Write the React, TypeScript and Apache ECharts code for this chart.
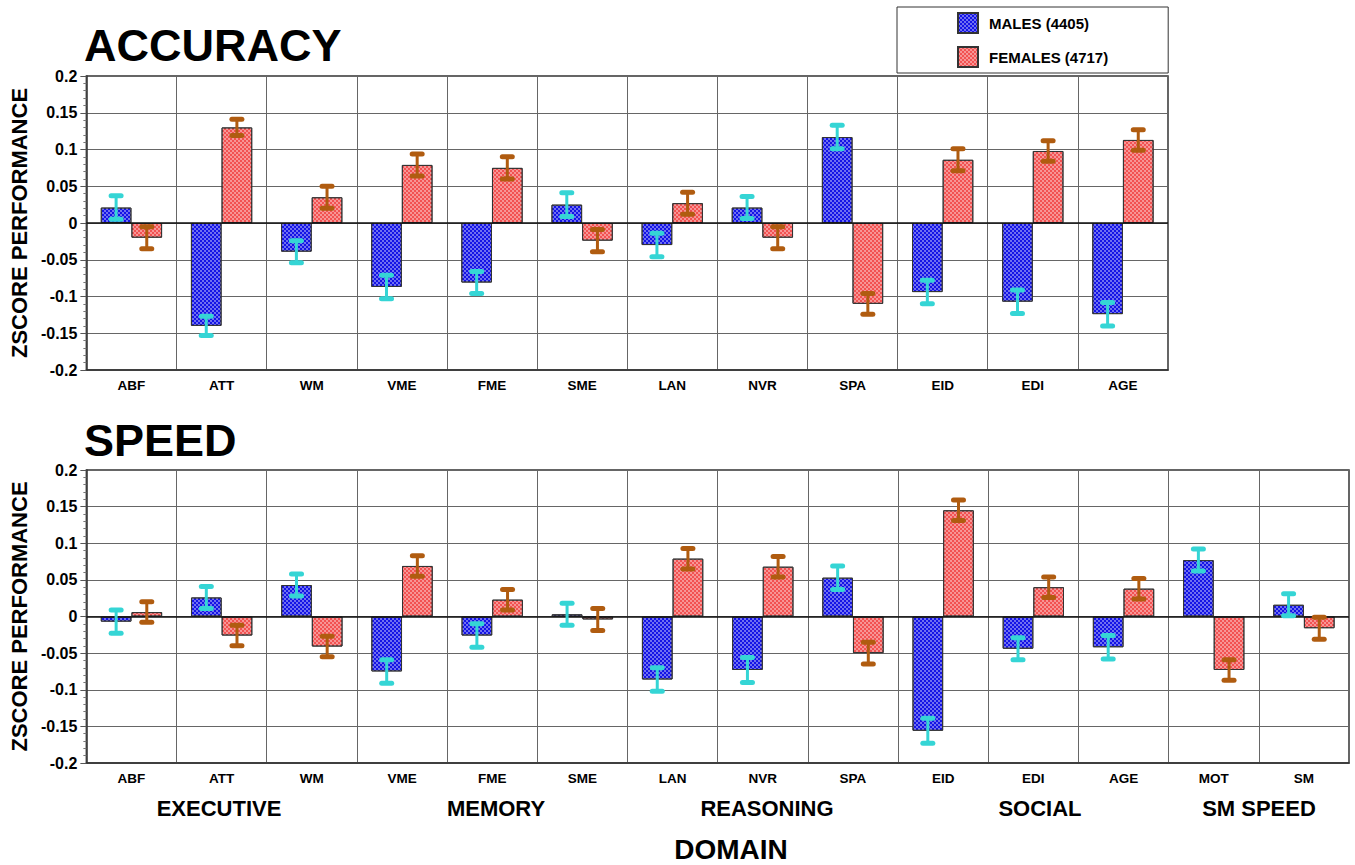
import React, { useEffect, useRef } from "react";
import * as echarts from "echarts";

const accCategories = ["ABF", "ATT", "WM", "VME", "FME", "SME", "LAN", "NVR", "SPA", "EID", "EDI", "AGE"];
const accMales = [0.021, -0.140, -0.039, -0.087, -0.081, 0.025, -0.030, 0.021, 0.117, -0.094, -0.107, -0.124];
const accMalesErr = [0.016, 0.013, 0.015, 0.016, 0.015, 0.016, 0.016, 0.015, 0.016, 0.016, 0.016, 0.016];
const accFemales = [-0.020, 0.130, 0.035, 0.079, 0.075, -0.024, 0.027, -0.020, -0.110, 0.086, 0.098, 0.113];
const accFemalesErr = [0.015, 0.011, 0.015, 0.015, 0.015, 0.015, 0.015, 0.015, 0.014, 0.015, 0.014, 0.014];

const spdCategories = ["ABF", "ATT", "WM", "VME", "FME", "SME", "LAN", "NVR", "SPA", "EID", "EDI", "AGE", "MOT", "SM"];
const spdMales = [-0.007, 0.026, 0.043, -0.075, -0.026, 0.003, -0.086, -0.073, 0.053, -0.156, -0.044, -0.042, 0.077, 0.016];
const spdMalesErr = [0.016, 0.015, 0.015, 0.016, 0.016, 0.015, 0.016, 0.017, 0.016, 0.017, 0.015, 0.016, 0.015, 0.015];
const spdFemales = [0.006, -0.026, -0.041, 0.069, 0.023, -0.004, 0.079, 0.068, -0.050, 0.145, 0.040, 0.038, -0.073, -0.016];
const spdFemalesErr = [0.014, 0.014, 0.014, 0.014, 0.014, 0.015, 0.014, 0.014, 0.015, 0.014, 0.014, 0.014, 0.014, 0.015];

const domainGroups = ["EXECUTIVE", "MEMORY", "REASONING", "SOCIAL", "SM SPEED"];
const domainGroupX = [219, 496, 767, 1040, 1259];

const MALES = "MALES (4405)";
const FEMALES = "FEMALES (4717)";
const yTicks = { min: -0.2, max: 0.2, interval: 0.05 };

const FONT = "'Liberation Sans', Arial, Helvetica, sans-serif";
const BLUE = "#1414e6";
const RED = "#f25252";
const CYAN = "#35d5d5";
const BROWN = "#b05c10";

function makeErrSeries(name: string, vals: number[], errs: number[], sign: number, axisIdx: number, color: string) {
  return {
    type: "custom",
    name,
    xAxisIndex: axisIdx,
    yAxisIndex: axisIdx,
    z: 10,
    silent: true,
    encode: { x: 0, y: 1 },
    data: vals.map((v, i) => [i, v, errs[i]]),
    renderItem: (params: any, api: any) => {
      const idx = api.value(0);
      const v = api.value(1);
      const e = api.value(2);
      const band = api.size([1, 0])[0];
      const off = sign * band * 0.17;
      const top = api.coord([idx, v + e]);
      const bot = api.coord([idx, v - e]);
      const x = top[0] + off;
      const hw = 5;
      return {
        type: "group",
        children: [
          { type: "line", shape: { x1: x, y1: top[1], x2: x, y2: bot[1] }, style: { stroke: color, lineWidth: 3 } },
          { type: "line", shape: { x1: x - hw, y1: top[1], x2: x + hw, y2: top[1] }, style: { stroke: color, lineWidth: 5, lineCap: "round" } },
          { type: "line", shape: { x1: x - hw, y1: bot[1], x2: x + hw, y2: bot[1] }, style: { stroke: color, lineWidth: 5, lineCap: "round" } },
        ],
      };
    },
  };
}

function barSeries(name: string, vals: number[], axisIdx: number, color: string, zeroLine: boolean) {
  const s: any = {
    type: "bar",
    name,
    xAxisIndex: axisIdx,
    yAxisIndex: axisIdx,
    data: vals,
    barWidth: "34%",
    barGap: "0%",
    itemStyle: {
      color,
      borderColor: "#333",
      borderWidth: 1,
      decal: {
        symbol: "circle",
        symbolSize: 0.8,
        color: "rgba(255,255,255,0.6)",
        dashArrayX: [[2, 2], [0, 2, 2, 0]],
        dashArrayY: [2, 0],
        rotation: 0,
      },
    },
  };
  if (zeroLine) {
    s.markLine = {
      silent: true,
      symbol: "none",
      label: { show: false },
      lineStyle: { color: "#111", width: 1.5, type: "solid" },
      data: [{ yAxis: 0 }],
    };
  }
  return s;
}

function yAxisCfg(gridIndex: number) {
  return {
    type: "value",
    gridIndex,
    min: yTicks.min,
    max: yTicks.max,
    interval: yTicks.interval,
    name: "ZSCORE PERFORMANCE",
    nameLocation: "middle",
    nameGap: 50,
    nameTextStyle: { fontFamily: FONT, fontWeight: "bold", fontSize: 22, color: "#000" },
    axisLine: { show: true, lineStyle: { color: "#333", width: 1.5 } },
    axisTick: { show: true, length: 6, lineStyle: { color: "#555" } },
    minorTick: { show: true, splitNumber: 5, length: 3, lineStyle: { color: "#777" } },
    axisLabel: {
      fontFamily: FONT,
      fontWeight: "bold",
      fontSize: 16,
      color: "#000",
      margin: 9,
      formatter: (v: number) => String(+v.toFixed(2)),
    },
    splitLine: { show: true, lineStyle: { color: "#666", width: 1 } },
  };
}

function xAxisCfg(gridIndex: number, cats: string[]) {
  return {
    type: "category",
    gridIndex,
    data: cats,
    axisLine: { show: true, onZero: false, lineStyle: { color: "#333", width: 1.5 } },
    axisTick: { show: false },
    axisLabel: { fontFamily: FONT, fontWeight: "bold", fontSize: 13.5, color: "#000", margin: 8, interval: 0 },
    splitLine: { show: true, interval: 0, lineStyle: { color: "#666", width: 1 } },
  };
}

export default function App() {
  const ref = useRef<HTMLDivElement>(null);
  useEffect(() => {
    document.body.style.margin = "0";
    const chart = echarts.init(ref.current!, null, { renderer: "svg" });
    const option: any = {
      animation: false,
      backgroundColor: "#fff",
      title: [
        { text: "ACCURACY", left: 79, top: 18, textStyle: { fontFamily: FONT, fontWeight: "bold", fontSize: 45, color: "#000" } },
        { text: "SPEED", left: 79, top: 413, textStyle: { fontFamily: FONT, fontWeight: "bold", fontSize: 45, color: "#000" } },
      ],
      legend: {
        data: [MALES, FEMALES],
        orient: "vertical",
        left: 897,
        top: 7,
        padding: [5, 60, 5, 60],
        itemWidth: 20,
        itemHeight: 20,
        itemGap: 12,
        icon: "rect",
        borderColor: "#333",
        borderWidth: 1,
        textStyle: { fontFamily: FONT, fontWeight: "bold", fontSize: 15, color: "#000", padding: [0, 0, 0, 6] },
      },
      grid: [
        { left: 83, top: 76, width: 1085, height: 294, show: true, borderColor: "#333", borderWidth: 1.5, backgroundColor: "transparent" },
        { left: 83, top: 470, width: 1266, height: 293, show: true, borderColor: "#333", borderWidth: 1.5, backgroundColor: "transparent" },
      ],
      xAxis: [xAxisCfg(0, accCategories), xAxisCfg(1, spdCategories)],
      yAxis: [yAxisCfg(0), yAxisCfg(1)],
      graphic: [
        ...domainGroups.map((g, i) => ({
          type: "text",
          x: domainGroupX[i],
          y: 808,
          style: { text: g, fontFamily: FONT, fontWeight: "bold", fontSize: 22, fill: "#000", textAlign: "center", textVerticalAlign: "middle" },
        })),
        {
          type: "text",
          x: 731,
          y: 849,
          style: { text: "DOMAIN", fontFamily: FONT, fontWeight: "bold", fontSize: 28, fill: "#000", textAlign: "center", textVerticalAlign: "middle" },
        },
      ],
      series: [
        barSeries(MALES, accMales, 0, BLUE, true),
        barSeries(FEMALES, accFemales, 0, RED, false),
        barSeries(MALES, spdMales, 1, BLUE, true),
        barSeries(FEMALES, spdFemales, 1, RED, false),
        makeErrSeries("accMaleErr", accMales, accMalesErr, -1, 0, CYAN),
        makeErrSeries("accFemaleErr", accFemales, accFemalesErr, 1, 0, BROWN),
        makeErrSeries("spdMaleErr", spdMales, spdMalesErr, -1, 1, CYAN),
        makeErrSeries("spdFemaleErr", spdFemales, spdFemalesErr, 1, 1, BROWN),
      ],
    };
    chart.setOption(option);
    return () => chart.dispose();
  }, []);
  return <div ref={ref} style={{ width: 1355, height: 865 }} />;
}
